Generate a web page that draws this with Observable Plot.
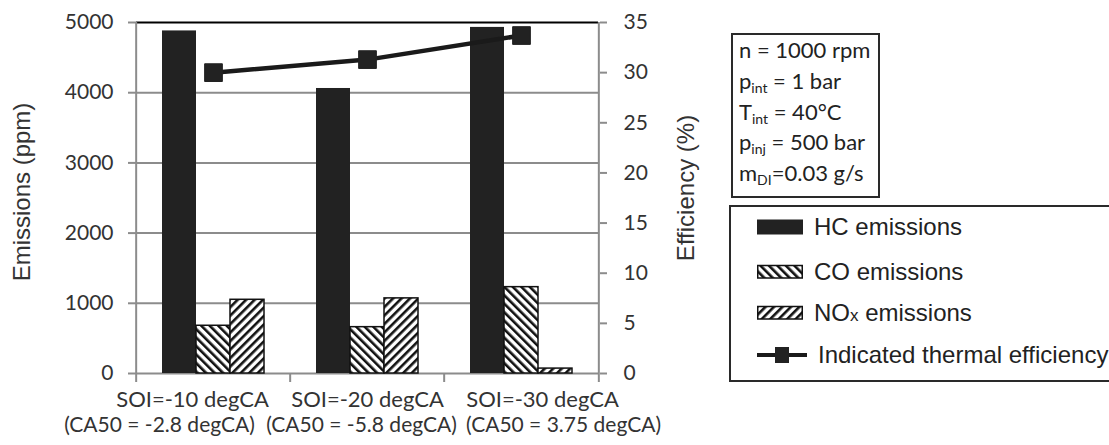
<!DOCTYPE html>
<html><head><meta charset="utf-8">
<script src="https://cdn.jsdelivr.net/npm/d3@7"></script>
<script src="https://cdn.jsdelivr.net/npm/@observablehq/plot@0.6"></script>
<style>
html,body{margin:0;background:#fff;overflow:hidden;}
#wrap{position:relative;width:1109px;height:445px;background:#fff;}
#wrap > svg{position:absolute;left:0;top:0;}
.box{position:absolute;border:2px solid #2a2a2a;box-sizing:border-box;background:#fff;}
#info{font-family:Lato,sans-serif;font-size:22px;color:#222;padding:0 0 0 6px;}
#info div{height:30.8px;line-height:30.8px;white-space:nowrap;}
#info sub{font-size:14px;line-height:0;vertical-align:-4px;}
#legend{font-family:"Liberation Sans",Arial,sans-serif;font-size:24px;color:#222;border-right:none;}
.row{position:absolute;left:26px;height:30px;display:flex;align-items:center;white-space:nowrap;}
.row svg{margin-right:11px;}
.small{font-size:17px;}
</style></head><body>
<svg width="0" height="0" style="position:absolute">
<defs>
<pattern id="coPat" patternUnits="userSpaceOnUse" width="6" height="6" patternTransform="rotate(-45)">
<rect width="6" height="6" fill="#fff"/><rect x="0" y="0" width="2.6" height="6" fill="#111"/>
</pattern>
<pattern id="noxPat" patternUnits="userSpaceOnUse" width="6" height="6" patternTransform="rotate(45)">
<rect width="6" height="6" fill="#fff"/><rect x="0" y="0" width="2.6" height="6" fill="#111"/>
</pattern>
</defs>
</svg>
<div id="wrap"></div>
<script>
// ---- data ----
const categories = ["SOI=-10 degCA", "SOI=-20 degCA", "SOI=-30 degCA"];
const ca50Labels = ["(CA50 = -2.8 degCA)", "(CA50 = -5.8 degCA)", "(CA50 = 3.75 degCA)"];
const series = ["HC emissions", "CO emissions", "NOx emissions"];
const hcValues = [4880, 4060, 4930];
const coValues = [680, 660, 1230];
const noxValues = [1050, 1070, 70];
const efficiency = [30.0, 31.3, 33.7];
const emissionTicks = [0, 1000, 2000, 3000, 4000, 5000];
const efficiencyTicks = [0, 5, 10, 15, 20, 25, 30, 35];

// ---- layout ----
const W = 1109, H = 445, ML = 135, MR = 510, MT = 22, MB = 72;
const GRAY = "#8c8c8c";
const bw = (W - ML - MR) / categories.length;

const rows = [];
categories.forEach((c, i) => {
  rows.push({cat: c, series: series[0], value: hcValues[i]});
  rows.push({cat: c, series: series[1], value: coValues[i]});
  rows.push({cat: c, series: series[2], value: noxValues[i]});
});
const effRows = categories.map((c, i) => ({cat: c, eff: efficiency[i]}));

const common = {width: W, height: H, marginLeft: ML, marginRight: MR, marginTop: MT, marginBottom: MB,
  style: {fontFamily: "Lato, sans-serif", fontSize: "21px", color: "#333", background: "transparent", overflow: "visible"}};

const plot1 = Plot.plot({
  ...common,
  fx: {domain: categories, padding: 0, axis: null},
  x: {domain: series, paddingInner: 0, paddingOuter: 0.71, axis: null},
  y: {domain: [0, 5000], axis: null},
  marks: [
    Plot.ruleY(emissionTicks.filter(d => d < 5000), {stroke: GRAY, strokeWidth: 2}),
    Plot.ruleY([5000], {stroke: "#000", strokeWidth: 2}),
    Plot.barY(rows.filter(d => d.series === series[0]), {fx: "cat", x: "series", y: "value", fill: "#222"}),
    Plot.barY(rows.filter(d => d.series === series[1]), {fx: "cat", x: "series", y: "value", fill: "url(#coPat)", stroke: "#111", strokeWidth: 1.5}),
    Plot.barY(rows.filter(d => d.series === series[2]), {fx: "cat", x: "series", y: "value", fill: "url(#noxPat)", stroke: "#111", strokeWidth: 1.5}),
    Plot.axisY({ticks: emissionTicks, tickSize: 8, tickPadding: 15, stroke: GRAY, strokeWidth: 2,
      tickFormat: d3.format("d"), label: null, fill: "#333", fontSize: 21})
  ]
});

const labelMarks = [];
categories.forEach((c, i) => {
  labelMarks.push(Plot.text([c], {x: d => d, frameAnchor: "bottom", dy: 33, dx: (i - 1) * 21, fill: "#333", fontSize: 22}));
  labelMarks.push(Plot.text([c], {x: d => d, text: () => ca50Labels[i], frameAnchor: "bottom", dy: 58, dx: (i - 1) * 48 - 6, fill: "#333", fontSize: 21}));
});

const plot2 = Plot.plot({
  ...common,
  x: {type: "point", domain: categories, padding: 0.5, axis: null},
  y: {domain: [0, 35], axis: null},
  marks: [
    Plot.ruleX([categories[0]], {dx: -bw / 2, stroke: GRAY, strokeWidth: 2}),
    Plot.ruleX([categories[categories.length - 1]], {dx: bw / 2, stroke: GRAY, strokeWidth: 2}),
    Plot.ruleX(categories, {dx: -bw / 2, insetTop: H - MT - MB, insetBottom: -9, stroke: GRAY, strokeWidth: 2}),
    Plot.ruleX([categories[categories.length - 1]], {dx: bw / 2, insetTop: H - MT - MB, insetBottom: -9, stroke: GRAY, strokeWidth: 2}),
    Plot.axisY({anchor: "right", ticks: efficiencyTicks, tickSize: 7, tickPadding: 17, stroke: GRAY, strokeWidth: 2,
      tickFormat: d3.format("d"), label: null, fill: "#333", fontSize: 21}),
    Plot.line(effRows, {x: "cat", y: "eff", stroke: "#1a1a1a", strokeWidth: 4.5}),
    Plot.dot(effRows, {x: "cat", y: "eff", symbol: "square", r: 10, fill: "#222", stroke: "#222", strokeWidth: 1}),
    ...labelMarks,
    Plot.text(["Emissions (ppm)"], {frameAnchor: "left", textAnchor: "middle", dx: -113, dy: -6, rotate: -90, fontFamily: "Liberation Sans", fontSize: 24, fill: "#333"}),
    Plot.text(["Efficiency (%)"], {frameAnchor: "right", textAnchor: "middle", dx: 87, dy: -10, rotate: -90, fontFamily: "Liberation Sans", fontSize: 24, fill: "#333"})
  ]
});

const wrap = document.getElementById("wrap");
wrap.appendChild(plot1);
wrap.appendChild(plot2);

// info box
const info = document.createElement("div");
info.className = "box"; info.id = "info";
Object.assign(info.style, {left: "731px", top: "33px", width: "149px", height: "165px"});
info.innerHTML = `<div>n = 1000 rpm</div><div>p<sub>int</sub> = 1 bar</div><div>T<sub>int</sub> = 40°C</div><div>p<sub>inj</sub> = 500 bar</div><div>m<sub>DI</sub>=0.03 g/s</div>`;
wrap.appendChild(info);

// legend
const legend = document.createElement("div");
legend.className = "box"; legend.id = "legend";
Object.assign(legend.style, {left: "729px", top: "205px", width: "520px", height: "177px"});
const sw = {
  hc: `<svg width="46" height="16"><rect x="0" y="0.5" width="46" height="15" fill="#222"/></svg>`,
  co: `<svg width="46" height="16"><rect x="0.75" y="1.5" width="44.5" height="12.5" fill="url(#coPat)" stroke="#111" stroke-width="1.5"/></svg>`,
  nox: `<svg width="46" height="16"><rect x="0.75" y="1.5" width="44.5" height="12.5" fill="url(#noxPat)" stroke="#111" stroke-width="1.5"/></svg>`,
  eff: `<svg width="50" height="18"><line x1="0" y1="9" x2="50" y2="9" stroke="#1a1a1a" stroke-width="4"/><rect x="18" y="1" width="14" height="16" fill="#222"/></svg>`
};
const legendItems = [
  {sw: sw.hc, label: "HC emissions", top: 5},
  {sw: sw.co, label: "CO emissions", top: 50},
  {sw: sw.nox, label: 'NO<span class="small">x</span> emissions', top: 91},
  {sw: sw.eff, label: "Indicated thermal efficiency", top: 133}
];
legend.innerHTML = legendItems.map(d => `<div class="row" style="top:${d.top}px">${d.sw}<span>${d.label}</span></div>`).join("");
wrap.appendChild(legend);
</script>
</body></html>
